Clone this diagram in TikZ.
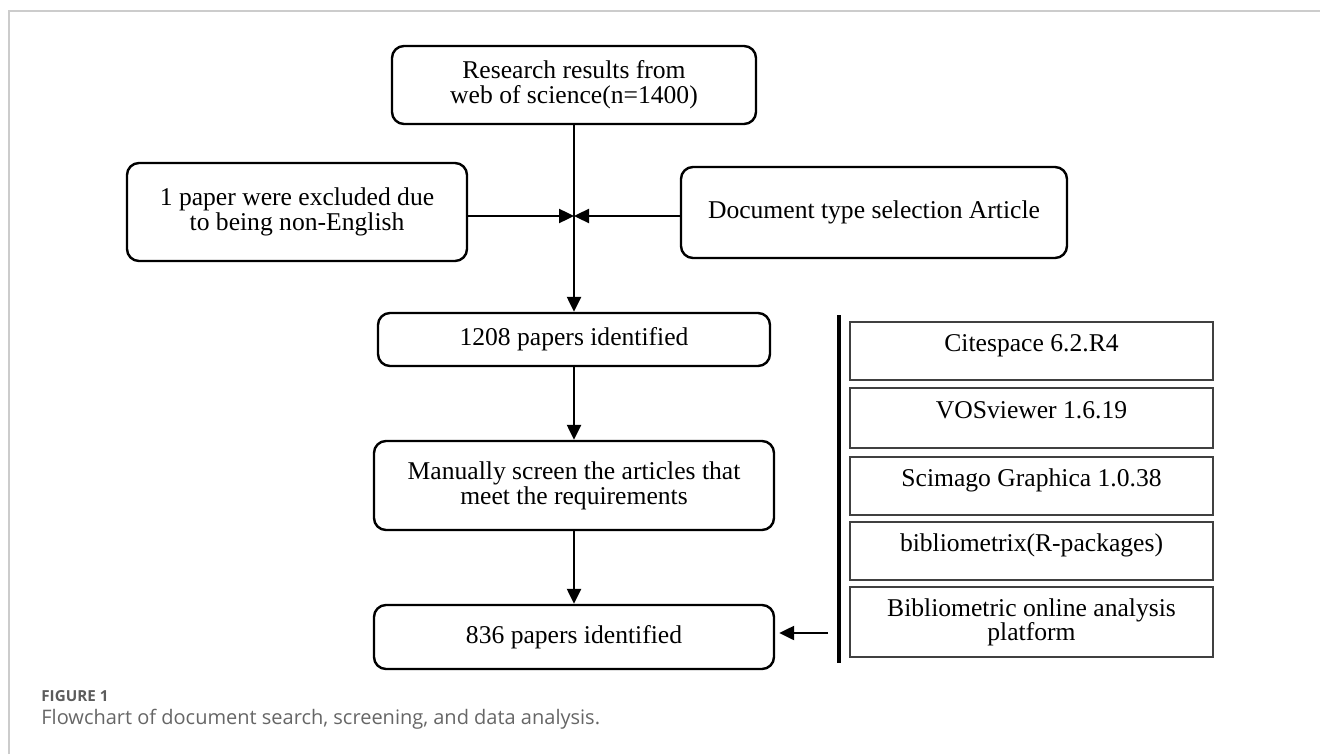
\documentclass[tikz,border=0pt]{standalone}
\usepackage{fontspec}
\setmainfont{Liberation Serif}
\newfontfamily\capfont{Open Sans}
\usetikzlibrary{arrows.meta}

\definecolor{framegray}{HTML}{CCCCCC}
\definecolor{capgray}{HTML}{666666}

\tikzset{
  flowbox/.style={draw, line width=1.2pt, rounded corners=6pt, align=center,
    inner sep=2pt, font=\fontsize{12.8}{12.5}\selectfont},
  toolbox/.style={draw=black!75, line width=0.7pt, align=center,
    minimum width=181.5pt, inner sep=2pt, font=\fontsize{12.8}{12}\selectfont},
  liftup/.style={text height=9pt, text depth=9pt},
  flowarrow/.style={line width=1.2pt, -{Triangle[length=7.5pt,width=7pt]}},
}

\begin{document}
\begin{tikzpicture}[x=0.5pt,y=-0.5pt]
    \useasboundingbox (0,0) rectangle (1320,754);

    % page frame
    \draw[framegray, line width=0.7pt] (9,754) -- (9,11) -- (1320,11);

    % main flow
    \node[flowbox, minimum width=182pt, minimum height=39pt] (search) at (574,85)
        {Research results from\\web of science(n=1400)};
    \node[flowbox, minimum width=170pt, minimum height=49pt] (nonEng) at (297,212)
        {1 paper were excluded due\\to being non-English};
    \node[flowbox, minimum width=193pt, minimum height=45.5pt] (docType) at (874,212.5)
        {Document type selection Article};
    \node[flowbox, minimum width=196pt, minimum height=26.5pt] (ident1208) at (574,339.5)
        {1208 papers identified};
    \node[flowbox, minimum width=200pt, minimum height=44.5pt] (screen) at (574,485.5)
        {Manually screen the articles that\\meet the requirements};
    \node[flowbox, minimum width=200pt, minimum height=32pt] (ident836) at (574,637)
        {836 papers identified};

    % tools
    \node[toolbox, liftup, minimum height=29pt] (citespace) at (1031.5,351) {Citespace 6.2.R4};
    \node[toolbox, liftup, minimum height=30pt] (vosviewer) at (1031.5,418) {VOSviewer 1.6.19};
    \node[toolbox, liftup, minimum height=29pt] (scimago) at (1031.5,486) {Scimago Graphica 1.0.38};
    \node[toolbox, liftup, minimum height=29pt] (biblio) at (1031.5,551) {bibliometrix(R-packages)};
    \node[toolbox, minimum height=35pt] (platform) at (1031.5,622)
        {Bibliometric online analysis\\platform};

    % arrows
    \coordinate (meet) at (574,216);
    \draw[flowarrow] (search) -- (ident1208);
    \draw[flowarrow] (nonEng.east |- meet) -- (meet);
    \draw[flowarrow] (docType.west |- meet) -- (meet);
    \draw[flowarrow] (ident1208) -- (screen);
    \draw[flowarrow] (screen) -- (ident836);

    % bar and arrow into 836
    \coordinate (barTop) at (839,315);
    \coordinate (barBot) at (839,663);
    \draw[line width=2.3pt] (barTop) -- (barBot);
    \coordinate (tail) at (828,633);
    \draw[flowarrow, shorten >=2pt] (tail) -- (tail -| ident836.east);

    % caption
    \node[anchor=base west, inner sep=0pt, font=\capfont\bfseries\fontsize{7.6}{9}\selectfont,
          text=capgray!90!black] (figNo) at (41,701) {FIGURE 1};
    \node[anchor=base west, inner sep=0pt, font=\capfont\fontsize{10}{12}\selectfont,
          text=capgray] (figText) at (41,724) {Flowchart of document search, screening, and data analysis.};
\end{tikzpicture}
\end{document}
